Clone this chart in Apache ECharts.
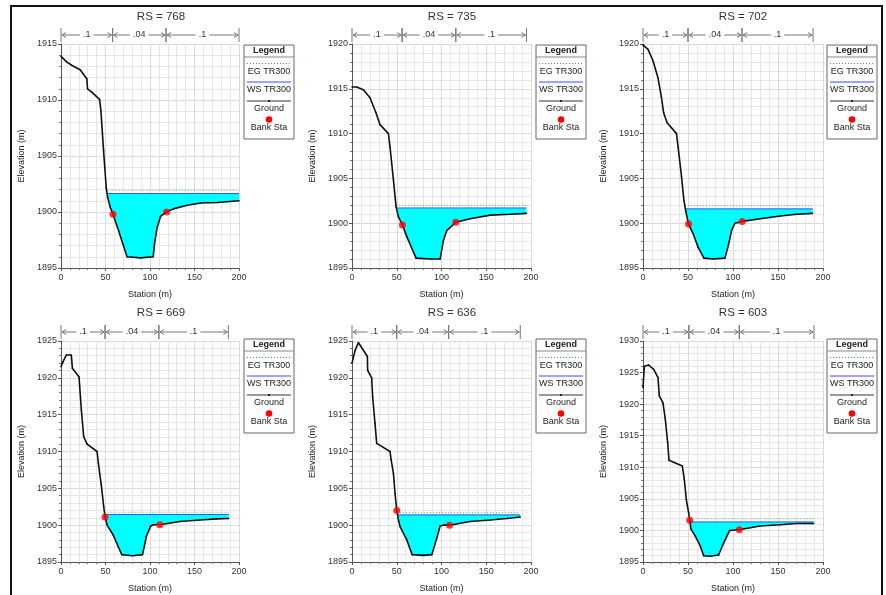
<!DOCTYPE html>
<html>
<head>
<meta charset="utf-8">
<title>HEC-RAS cross sections</title>
<script src="https://cdn.jsdelivr.net/npm/echarts@6/dist/echarts.min.js"></script>
<style>
html, body { margin: 0; padding: 0; background: #fff; }
#main { width: 886px; height: 595px; }
</style>
</head>
<body>
<div id="main"></div>
<script>
// river stations, one panel each
const rsNames = ["768", "735", "702", "669", "636", "603"];
const elevMax = [1915, 1920, 1920, 1925, 1925, 1930];
const wsElev = [1901.65, 1901.7, 1901.6, 1901.45, 1901.4, 1901.35];
const egElev = [1901.95, 1902.0, 1901.95, 1901.75, 1901.7, 1901.85];

// ground points [station, elevation]
const g768 = [[0, 1913.9], [6.4, 1913.4], [12, 1913.1], [21.5, 1912.7], [29, 1911.9], [29.8, 1911.0], [34.6, 1910.7], [43.3, 1910.05], [44.8, 1909.1], [47.8, 1905.5], [50.8, 1902.2], [52.4, 1901.3], [55.4, 1900.4], [58.4, 1899.8], [64.8, 1898.3], [69.7, 1897.1], [74.2, 1896.0], [89.3, 1895.9], [103.6, 1896.0], [105, 1897.1], [108, 1898.6], [111.8, 1899.6], [118.6, 1900.0], [127, 1900.3], [142, 1900.6], [157, 1900.8], [176, 1900.85], [200, 1901.0]];
const g735 = [[0, 1915.2], [5.2, 1915.2], [12.7, 1914.9], [20.1, 1914.0], [26.9, 1912.3], [31.3, 1911.0], [40.7, 1910.0], [42.5, 1908.5], [46.3, 1904.8], [49.3, 1901.8], [51.9, 1900.7], [56.3, 1899.8], [61.2, 1898.5], [66.8, 1897.2], [71.6, 1896.1], [87.3, 1896.0], [98.5, 1896.0], [102.2, 1898.1], [106, 1899.2], [116, 1900.1], [132, 1900.5], [154.5, 1900.9], [176.9, 1901.0], [194.8, 1901.1]];
const g702 = [[0, 1919.9], [5.6, 1919.4], [11.2, 1918.1], [16.7, 1916.2], [20.4, 1914.1], [23, 1912.3], [26.8, 1911.2], [37.2, 1910.0], [39, 1908.5], [42.8, 1905.2], [45.4, 1902.6], [47.6, 1901.3], [50.6, 1899.9], [55.8, 1898.8], [61.3, 1897.3], [67.7, 1896.1], [78, 1896.0], [91, 1896.1], [94.8, 1897.5], [98.5, 1899.2], [102.2, 1900.0], [110.4, 1900.2], [126.4, 1900.45], [152.4, 1900.8], [171, 1901.0], [188.5, 1901.1]];
const g669 = [[0, 1921.5], [2.3, 1922.2], [6, 1923.1], [11.6, 1923.1], [12.8, 1921.3], [20.3, 1920.1], [21, 1918.8], [22.9, 1915.6], [25.5, 1912.0], [29.3, 1911.0], [40.5, 1910.0], [42, 1908.4], [45.4, 1905.3], [48, 1902.5], [49.5, 1901.1], [51.8, 1900.0], [58.5, 1898.7], [64.2, 1897.1], [68.3, 1896.0], [80.3, 1895.85], [91.6, 1896.0], [96, 1898.5], [100.9, 1899.9], [103.6, 1900.05], [111, 1900.05], [133.6, 1900.5], [156, 1900.7], [174.9, 1900.85], [188.4, 1900.9]];
const g636 = [[0, 1922.0], [3.4, 1923.7], [7.1, 1924.8], [17.2, 1922.9], [17.5, 1921.0], [22, 1920.0], [23.1, 1917.4], [25.7, 1913.8], [27.6, 1911.1], [42.5, 1910.0], [43.7, 1908.9], [46.3, 1907.0], [48.1, 1904.3], [50, 1902.0], [51.9, 1900.7], [53.7, 1899.8], [61.2, 1898.0], [67.2, 1896.0], [79.9, 1895.9], [89.2, 1896.0], [94.8, 1898.25], [98.5, 1899.9], [102.2, 1900.0], [109, 1900.0], [132, 1900.5], [154.5, 1900.7], [173, 1900.9], [188, 1901.1]];
const g603 = [[0, 1922.6], [1.5, 1926.0], [6.3, 1926.2], [11.9, 1925.5], [16.7, 1924.2], [18.1, 1921.3], [22.2, 1920.2], [24.8, 1917.6], [27.4, 1913.9], [28.9, 1911.1], [43.7, 1910.2], [45.9, 1908.1], [48.1, 1904.9], [50.7, 1902.8], [51.9, 1901.6], [53.3, 1900.2], [58.1, 1899.1], [63.7, 1897.5], [67.4, 1896.0], [74.8, 1895.9], [84, 1896.1], [89.6, 1898.0], [96.3, 1900.0], [107, 1900.1], [130, 1900.7], [152.6, 1900.9], [171, 1901.1], [189.6, 1901.1]];
const ground = [g768, g735, g702, g669, g636, g603];

const bankSta = [
    [[58.4, 1899.8], [118.6, 1900.0]],
    [[56.3, 1899.8], [116, 1900.1]],
    [[50.6, 1899.9], [110.4, 1900.2]],
    [[49.5, 1901.1], [111, 1900.05]],
    [[50, 1902.0], [109, 1900.0]],
    [[51.9, 1901.6], [107, 1900.1]],
];

// manning n break stations and values
const nBreaks = [
    [0, 58, 118, 200],
    [0, 56, 116, 195],
    [0, 50, 110, 189],
    [0, 49.5, 110, 188],
    [0, 50, 108, 188],
    [0, 51, 107, 190],
];
const nValues = [".1", ".04", ".1"];

const FONT = "Liberation Sans Narrow, Liberation Sans, Arial, sans-serif";
const FONT2 = "Liberation Sans, Arial, sans-serif";

const grids = [
    { left: 61, top: 44, width: 178, height: 224 },
    { left: 352, top: 44, width: 179, height: 224 },
    { left: 643, top: 44, width: 180, height: 224 },
    { left: 61, top: 341, width: 178, height: 221 },
    { left: 352, top: 341, width: 179, height: 221 },
    { left: 643, top: 341, width: 180, height: 221 },
];
const titleX = [161, 452, 743, 161, 452, 743];
const titleY = [11, 11, 11, 307, 307, 307];
const legendPos = [[244, 45], [536, 45], [827, 45], [244, 339], [536, 339], [827, 339]];

function leftEdge(pts, level) {
    for (let i = 0; i < pts.length - 1; i++) {
        const a = pts[i], b = pts[i + 1];
        if (a[1] >= level && b[1] < level) {
            return a[0] + (a[1] - level) / (a[1] - b[1]) * (b[0] - a[0]);
        }
    }
    return pts[0][0];
}

function waterPoly(pts, level) {
    const xl = leftEdge(pts, level);
    const poly = [[xl, level]];
    pts.forEach(function (p) { if (p[0] > xl) poly.push(p); });
    poly.push([pts[pts.length - 1][0], level]);
    return poly;
}

function legendBox(x, y) {
    const txt = function (t, ty, bold) {
        return {
            type: "text", x: 25, y: ty,
            style: {
                text: t, fill: "#222", fontSize: 9, fontFamily: FONT2,
                fontWeight: bold ? "bold" : "normal",
                textAlign: "center", textVerticalAlign: "middle",
                align: "center", verticalAlign: "middle",
            },
        };
    };
    const ln = function (ly, color, dash) {
        return {
            type: "line", shape: { x1: 3, y1: ly, x2: 47, y2: ly },
            style: { stroke: color, lineWidth: 1, lineDash: dash || null },
        };
    };
    return {
        type: "group", x: x, y: y,
        children: [
            { type: "rect", shape: { x: 0, y: 0, width: 50, height: 94 }, style: { fill: "#fff", stroke: "#666", lineWidth: 1 } },
            txt("Legend", 6, true),
            { type: "line", shape: { x1: 0, y1: 12, x2: 50, y2: 12 }, style: { stroke: "#888", lineWidth: 1 } },
            ln(18.5, "#44aa44", [1, 2]),
            txt("EG TR300", 26.5),
            ln(37, "#4444ff"),
            txt("WS TR300", 45),
            ln(56, "#333"),
            { type: "circle", shape: { cx: 25, cy: 56, r: 1 }, style: { fill: "#000" } },
            txt("Ground", 64),
            { type: "circle", shape: { cx: 25, cy: 74.5, r: 3.3 }, style: { fill: "#ff0000" } },
            txt("Bank Sta", 83),
        ],
    };
}

const xAxes = [], yAxes = [], titles = [], series = [], graphics = [];

rsNames.forEach(function (rs, k) {
    titles.push({
        text: "RS = " + rs,
        left: titleX[k], top: titleY[k], textAlign: "center", padding: 0,
        textStyle: { fontSize: 11.5, fontWeight: "normal", color: "#333", fontFamily: FONT2 },
    });
    xAxes.push({
        type: "value", gridIndex: k, min: 0, max: 200, interval: 50,
        name: "Station (m)", nameLocation: "middle", nameGap: 22,
        nameTextStyle: { fontSize: 9, color: "#222", fontFamily: FONT },
        axisLine: { show: true, lineStyle: { color: "#555" } },
        axisTick: { show: true, length: 3, lineStyle: { color: "#555" } },
        minorTick: { show: true, splitNumber: 5, length: 2, lineStyle: { color: "#777" } },
        axisLabel: { fontSize: 9, color: "#333", margin: 5, fontFamily: FONT2 },
        splitLine: { show: true, lineStyle: { color: "#dadada" } },
        minorSplitLine: { show: true, lineStyle: { color: "#e6e6e6" } },
    });
    yAxes.push({
        type: "value", gridIndex: k, min: 1895, max: elevMax[k], interval: 5,
        name: "Elevation (m)", nameLocation: "middle", nameGap: 35,
        nameTextStyle: { fontSize: 9, color: "#222", fontFamily: FONT },
        axisLine: { show: true, lineStyle: { color: "#555" } },
        axisTick: { show: true, length: 3, lineStyle: { color: "#555" } },
        minorTick: { show: true, splitNumber: 5, length: 2, lineStyle: { color: "#777" } },
        axisLabel: {
            fontSize: 9, color: "#333", margin: 4, fontFamily: FONT,
            formatter: function (v) { return String(v); },
        },
        splitLine: { show: true, lineStyle: { color: "#dadada" } },
        minorSplitLine: { show: true, lineStyle: { color: "#e6e6e6" } },
    });

    const pts = ground[k];
    const xEnd = pts[pts.length - 1][0];
    const poly = waterPoly(pts, wsElev[k]);

    series.push({
        type: "custom", name: "water", xAxisIndex: k, yAxisIndex: k, z: 1, silent: true,
        data: [[poly[0][0], wsElev[k]]],
        renderItem: function (params, api) {
            return {
                type: "polygon",
                shape: { points: poly.map(function (p) { return api.coord(p); }) },
                style: { fill: "#00ffff" },
            };
        },
    });
    series.push({
        type: "line", name: "EG TR300", xAxisIndex: k, yAxisIndex: k, z: 2,
        data: [[leftEdge(pts, egElev[k]), egElev[k]], [xEnd, egElev[k]]],
        showSymbol: false, lineStyle: { color: "#55bb55", width: 1, type: [1, 2] },
    });
    series.push({
        type: "line", name: "WS TR300", xAxisIndex: k, yAxisIndex: k, z: 3,
        data: [[poly[0][0], wsElev[k]], [xEnd, wsElev[k]]],
        showSymbol: false, lineStyle: { color: "#3355ff", width: 1 },
    });
    series.push({
        type: "line", name: "Ground", xAxisIndex: k, yAxisIndex: k, z: 4,
        data: pts, symbol: "circle", symbolSize: 1.5, showSymbol: true,
        itemStyle: { color: "#111" },
        lineStyle: { color: "#111", width: 1.6 },
    });
    series.push({
        type: "scatter", name: "Bank Sta", xAxisIndex: k, yAxisIndex: k, z: 5,
        data: bankSta[k], symbolSize: 7, itemStyle: { color: "#ff0000" },
    });

    const nData = [];
    for (let i = 0; i < nValues.length; i++) {
        nData.push([nBreaks[k][i], elevMax[k], nBreaks[k][i + 1]]);
    }
    series.push({
        type: "custom", name: "Manning n", xAxisIndex: k, yAxisIndex: k, z: 6,
        clip: false, silent: true,
        encode: { x: [0, 2], y: 1 },
        data: nData,
        renderItem: function (params, api) {
            const a = api.coord([api.value(0), api.value(1)]);
            const b = api.coord([api.value(2), api.value(1)]);
            const y = a[1] - 9;
            const col = "#777";
            const ls = { stroke: col, lineWidth: 1, fill: null };
            return {
                type: "group",
                children: [
                    { type: "line", shape: { x1: a[0], y1: a[1] - 16, x2: a[0], y2: a[1] - 2 }, style: ls },
                    { type: "line", shape: { x1: b[0], y1: b[1] - 16, x2: b[0], y2: b[1] - 2 }, style: ls },
                    { type: "line", shape: { x1: a[0] + 1, y1: y, x2: b[0] - 1, y2: y }, style: ls },
                    { type: "polyline", shape: { points: [[a[0] + 5, y - 2.5], [a[0] + 1, y], [a[0] + 5, y + 2.5]] }, style: ls },
                    { type: "polyline", shape: { points: [[b[0] - 5, y - 2.5], [b[0] - 1, y], [b[0] - 5, y + 2.5]] }, style: ls },
                    {
                        type: "text", x: (a[0] + b[0]) / 2, y: y,
                        style: {
                            text: nValues[params.dataIndex], fill: "#333", fontSize: 9, fontFamily: FONT2,
                            textAlign: "center", textVerticalAlign: "middle",
                            align: "center", verticalAlign: "middle",
                            backgroundColor: "#fff", padding: [0, 3],
                        },
                    },
                ],
            };
        },
    });

    graphics.push(legendBox(legendPos[k][0], legendPos[k][1]));
});

graphics.push({
    type: "rect", z: 100, silent: true,
    shape: { x: 11, y: 6, width: 871, height: 600 },
    style: { fill: null, stroke: "#111", lineWidth: 2 },
});

let dom = document.getElementById("main");
let myChart = echarts.init(dom, null, { renderer: "canvas" });

let option = {
    animation: false,
    backgroundColor: "#fff",
    title: titles,
    grid: grids,
    xAxis: xAxes,
    yAxis: yAxes,
    series: series,
    graphic: graphics,
};

myChart.setOption(option);
window.addEventListener("resize", myChart.resize);
</script>
</body>
</html>
